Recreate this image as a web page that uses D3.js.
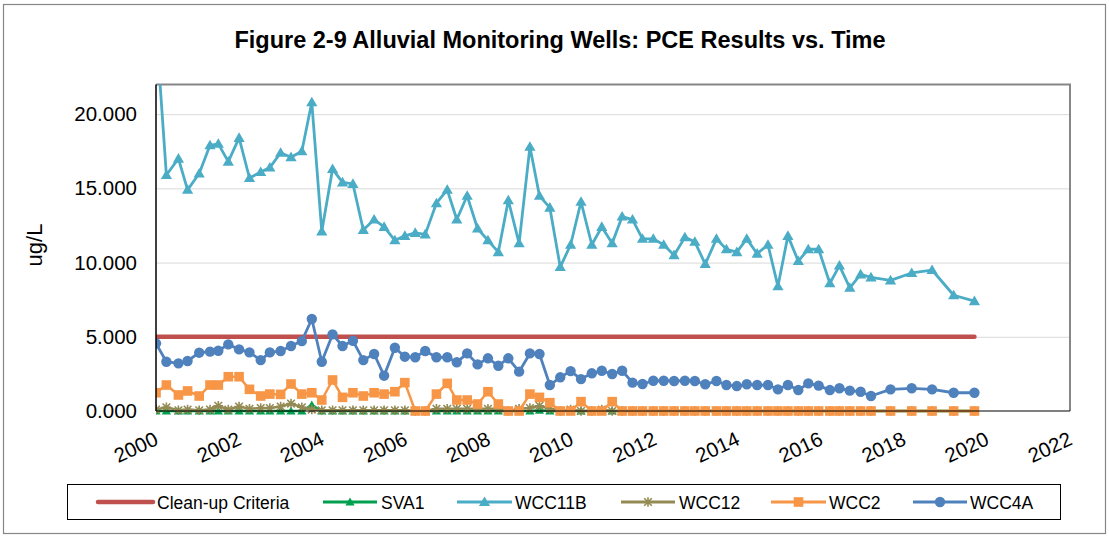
<!DOCTYPE html>
<html>
<head>
<meta charset="utf-8">
<script src="https://cdn.jsdelivr.net/npm/d3@7"></script>
<style>
  html, body { margin: 0; padding: 0; background: #fff; }
  svg { display: block; font-family: "Liberation Sans", Arial, sans-serif; }
</style>
</head>
<body>
<svg id="chart" width="1109" height="537"></svg>
<script>
// ---------------- DATA ----------------
const titleText = "Figure 2-9 Alluvial Monitoring Wells: PCE Results vs. Time";
const yAxisTitle = "ug/L";
const xTicks = [2000, 2002, 2004, 2006, 2008, 2010, 2012, 2014, 2016, 2018, 2020, 2022];
const yTicks = [0, 5, 10, 15, 20];

const sampleDates = [
  2000.00, 2000.25, 2000.54, 2000.76, 2001.04, 2001.30, 2001.50, 2001.74,
  2002.00, 2002.25, 2002.52, 2002.74, 2003.00, 2003.25, 2003.51, 2003.75,
  2003.99, 2004.25, 2004.49, 2004.74, 2004.99, 2005.25, 2005.49, 2005.75,
  2005.99, 2006.24, 2006.48, 2006.75, 2007.01, 2007.24, 2007.49, 2007.74,
  2007.99, 2008.24, 2008.48, 2008.74, 2009.00, 2009.23, 2009.48, 2009.73,
  2009.98, 2010.23, 2010.49, 2010.73, 2010.98, 2011.22, 2011.47, 2011.71,
  2011.97, 2012.22, 2012.47, 2012.73, 2012.97, 2013.22, 2013.49, 2013.73,
  2013.98, 2014.22, 2014.47, 2014.73, 2014.97, 2015.21, 2015.46, 2015.70,
  2015.95, 2016.22, 2016.45, 2016.70, 2016.96, 2017.21, 2017.68, 2018.19,
  2018.68, 2019.20, 2019.70
];

const cleanupDates = [2000.00, 2019.70];
const cleanupValues = [5.0, 5.0];

const sva1Values = [
  0, 0, 0, 0, 0, 0, 0, 0, 0, 0, 0, 0, 0, 0, 0, 0.4,
  0, 0, 0, 0, 0, 0, 0, 0, 0, 0, 0, 0, 0, 0, 0, 0,
  0, 0, 0, 0, 0, 0.05, 0, 0, 0, 0, 0, 0, 0, 0, 0, 0,
  0, 0, 0, 0, 0, 0, 0, 0, 0, 0, 0, 0, 0, 0, 0, 0,
  0, 0, 0, 0, 0, 0, 0, 0, 0, 0, 0
];

const wcc11bValues = [
  26.0, 15.9, 17.0, 14.9, 16.0, 17.9, 18.0, 16.8,
  18.4, 15.7, 16.1, 16.4, 17.4, 17.1, 17.5, 20.8,
  12.1, 16.3, 15.4, 15.3, 12.2, 12.9, 12.4, 11.5,
  11.8, 12.0, 11.9, 14.0, 14.9, 12.9, 14.5, 12.3,
  11.5, 10.7, 14.2, 11.3, 17.8, 14.5, 13.7, 9.7,
  11.2, 14.1, 11.2, 12.4, 11.3, 13.1, 12.9, 11.6,
  11.6, 11.2, 10.5, 11.7, 11.4, 9.9, 11.6, 10.9,
  10.7, 11.6, 10.6, 11.2, 8.4, 11.8, 10.1, 10.9,
  10.9, 8.6, 9.8, 8.3, 9.2, 9.0, 8.8, 9.3,
  9.5, 7.8, 7.4
];

const wcc12Values = [
  0.1, 0.25, 0.05, 0.1, 0.05, 0.1, 0.35, 0.1,
  0.3, 0.15, 0.2, 0.2, 0.3, 0.5, 0.25, 0.1,
  0.05, 0.05, 0.05, 0.05, 0.05, 0.05, 0.05, 0.05,
  0.05, 0, 0, 0.15, 0.15, 0.15, 0.15, 0.15,
  0.15, 0.15, 0, 0.15, 0.2, 0.35, 0.15, 0,
  0.1, 0, 0, 0.1, 0, 0, 0, 0,
  0, 0, 0, 0, 0, 0, 0, 0,
  0, 0, 0, 0, 0, 0, 0, 0,
  0, 0, 0, 0, 0, 0, 0, 0,
  0, 0, 0
];

const wcc2Values = [
  1.23, 1.75, 1.08, 1.35, 1.01, 1.75, 1.75, 2.31,
  2.31, 1.46, 1.01, 1.14, 1.12, 1.82, 1.14, 1.23,
  0.74, 2.09, 0.92, 1.23, 1.01, 1.23, 1.14, 1.30,
  1.91, 0, 0, 1.14, 1.86, 0.74, 0.74, 0.47,
  1.30, 0.47, 0, 0, 1.14, 0.92, 0.56, 0,
  0, 0.63, 0, 0, 0.63, 0, 0, 0,
  0, 0, 0, 0, 0, 0, 0, 0,
  0, 0, 0, 0, 0, 0, 0, 0,
  0, 0, 0, 0, 0, 0, 0, 0,
  0, 0, 0
];

const wcc4aValues = [
  4.56, 3.32, 3.21, 3.37, 3.93, 4.00, 4.06, 4.49,
  4.15, 3.95, 3.43, 3.95, 4.04, 4.38, 4.71, 6.20,
  3.32, 5.16, 4.38, 4.73, 3.43, 3.84, 2.38, 4.26,
  3.66, 3.62, 4.04, 3.62, 3.62, 3.28, 3.88, 3.14,
  3.55, 3.05, 3.55, 2.65, 3.88, 3.84, 1.75, 2.27,
  2.69, 2.15, 2.54, 2.71, 2.49, 2.71, 1.91, 1.82,
  2.04, 2.04, 2.02, 2.04, 2.02, 1.80, 2.02, 1.75,
  1.68, 1.80, 1.75, 1.75, 1.46, 1.75, 1.41, 1.86,
  1.71, 1.41, 1.53, 1.37, 1.30, 1.01, 1.46, 1.53,
  1.46, 1.23, 1.23
];

const seriesNames = ["Clean-up Criteria", "SVA1", "WCC11B", "WCC12", "WCC2", "WCC4A"];
const seriesColors = ["#C0504D", "#00A04E", "#4BACC6", "#948A54", "#F79646", "#4F81BD"];

// ---------------- LAYOUT ----------------
const svg = d3.select("#chart");
const W = 1109, H = 537;
const plot = { left: 156, right: 1070, top: 84.5, bottom: 411 };

const x = d3.scaleLinear().domain([2000, 2022]).range([plot.left, plot.right]);
const y = d3.scaleLinear().domain([0, 22]).range([plot.bottom, plot.top]);

// outer frame
svg.append("rect").attr("x", 3.5).attr("y", 4.5).attr("width", W - 7).attr("height", H - 8)
  .attr("fill", "#fff").attr("stroke", "#868686").attr("stroke-width", 1.2);

// title
svg.append("text").attr("x", 560).attr("y", 48).attr("text-anchor", "middle")
  .attr("font-size", "23.5px").attr("font-weight", "bold").attr("fill", "#000")
  .text(titleText);

// gridlines
const grid = svg.append("g").attr("transform", `translate(${plot.left},0)`)
  .call(d3.axisLeft(y).tickValues(yTicks.filter(d => d > 0)).tickSize(-(plot.right - plot.left)).tickFormat(""));
grid.select(".domain").remove();
grid.selectAll("line").attr("stroke", "#D9D9D9").attr("stroke-width", 1);

// plot border (top/right gray)
svg.append("path")
  .attr("d", `M${plot.left},${plot.top}H${plot.right}V${plot.bottom}`)
  .attr("fill", "none").attr("stroke", "#868686").attr("stroke-width", 2);

// y axis labels
const yAx = svg.append("g").attr("transform", `translate(${plot.left},0)`)
  .call(d3.axisLeft(y).tickValues(yTicks).tickSize(0).tickPadding(19).tickFormat(d3.format(".3f")));
yAx.select(".domain").remove();
yAx.selectAll("text").attr("font-size", "20.5px").attr("fill", "#000")
  .attr("font-family", "'Liberation Sans', Arial, sans-serif");

// x axis labels
const xAx = svg.append("g").attr("transform", `translate(0,${plot.bottom})`)
  .call(d3.axisBottom(x).tickValues(xTicks).tickSize(0).tickFormat(d3.format("d")));
xAx.select(".domain").remove();
xAx.selectAll("text")
  .attr("font-size", "20.5px").attr("fill", "#000")
  .attr("font-family", "'Liberation Sans', Arial, sans-serif")
  .attr("text-anchor", "end")
  .attr("dy", null)
  .attr("y", 0)
  .attr("transform", "translate(3,33) rotate(-25)");

// y axis title
svg.append("text").attr("transform", "translate(42,245) rotate(-90)")
  .attr("text-anchor", "middle").attr("font-size", "22px").attr("fill", "#000")
  .text(yAxisTitle);

// clip
svg.append("clipPath").attr("id", "clip").append("rect")
  .attr("x", plot.left).attr("y", plot.top).attr("width", plot.right - plot.left + 10)
  .attr("height", plot.bottom - plot.top + 10);

const dataG = svg.append("g").attr("clip-path", "url(#clip)");

// marker generators
function drawMarker(g, type, color) {
  if (type === "triangle") {
    g.append("path").attr("d", "M0,-5.6L5.6,4L-5.6,4Z").attr("fill", color);
  } else if (type === "triangleSmall") {
    g.append("path").attr("d", "M0,-4.6L4.6,3.4L-4.6,3.4Z").attr("fill", color);
  } else if (type === "star") {
    g.append("path").attr("d", "M-3.8,-3.8L3.8,3.8M-3.8,3.8L3.8,-3.8M0,-4.8L0,4.8M-4.8,0L4.8,0")
      .attr("stroke", color).attr("stroke-width", 1.6).attr("fill", "none");
  } else if (type === "square") {
    g.append("rect").attr("x", -4.8).attr("y", -4.8).attr("width", 9.6).attr("height", 9.6).attr("fill", color);
  } else if (type === "circle") {
    g.append("circle").attr("r", 5.2).attr("fill", color);
  }
}

const series = [
  { name: seriesNames[0], color: seriesColors[0], dates: cleanupDates, values: cleanupValues, marker: null, width: 4.5 },
  { name: seriesNames[1], color: seriesColors[1], dates: sampleDates, values: sva1Values, marker: "triangleSmall", width: 2.5 },
  { name: seriesNames[2], color: seriesColors[2], dates: sampleDates, values: wcc11bValues, marker: "triangle", width: 2.8 },
  { name: seriesNames[3], color: seriesColors[3], dates: sampleDates, values: wcc12Values, marker: "star", width: 2.5 },
  { name: seriesNames[4], color: seriesColors[4], dates: sampleDates, values: wcc2Values, marker: "square", width: 2.5 },
  { name: seriesNames[5], color: seriesColors[5], dates: sampleDates, values: wcc4aValues, marker: "circle", width: 2.8 }
];

const line = d3.line().x(d => x(d[0])).y(d => y(d[1])).defined(d => d[1] != null);

series.forEach(s => {
  const pts = s.dates.map((d, i) => [d, s.values[i]]);
  const g = dataG.append("g");
  g.append("path").datum(pts).attr("d", line)
    .attr("fill", "none").attr("stroke", s.color).attr("stroke-width", s.width)
    .attr("stroke-linejoin", "round").attr("stroke-linecap", s.marker ? "butt" : "round");
  if (s.marker) {
    pts.forEach(p => {
      const mg = g.append("g").attr("transform", `translate(${x(p[0])},${y(p[1])})`);
      drawMarker(mg, s.marker, s.color);
    });
  }
});

// axes lines (left and bottom, black)
svg.append("line").attr("x1", plot.left).attr("x2", plot.left).attr("y1", plot.top).attr("y2", plot.bottom)
  .attr("stroke", "#000").attr("stroke-width", 1.5);
svg.append("line").attr("x1", plot.left).attr("x2", plot.right).attr("y1", plot.bottom).attr("y2", plot.bottom)
  .attr("stroke", "#000").attr("stroke-width", 1.2);

// legend
const legend = svg.append("g");
legend.append("rect").attr("x", 67.5).attr("y", 484.5).attr("width", 993).attr("height", 35)
  .attr("fill", "#fff").attr("stroke", "#000").attr("stroke-width", 1);
const legendPos = [
  { x1: 98, x2: 153, tx: 157 },
  { x1: 323, x2: 377, tx: 381 },
  { x1: 457, x2: 512, tx: 515 },
  { x1: 621, x2: 675, tx: 679 },
  { x1: 771, x2: 826, tx: 829 },
  { x1: 913, x2: 967, tx: 970 }
];
const ly = 502;
series.forEach((s, i) => {
  const p = legendPos[i];
  legend.append("line").attr("x1", p.x1).attr("x2", p.x2).attr("y1", ly).attr("y2", ly)
    .attr("stroke", s.color).attr("stroke-width", s.marker ? 3 : 4.5).attr("stroke-linecap", s.marker ? "butt" : "round");
  if (s.marker) {
    const mg = legend.append("g").attr("transform", `translate(${(p.x1 + p.x2) / 2},${ly})`);
    drawMarker(mg, s.marker, s.color);
  }
  legend.append("text").attr("x", p.tx).attr("y", ly + 6.5).attr("font-size", "17.5px").attr("fill", "#000")
    .text(s.name);
});
</script>
</body>
</html>
